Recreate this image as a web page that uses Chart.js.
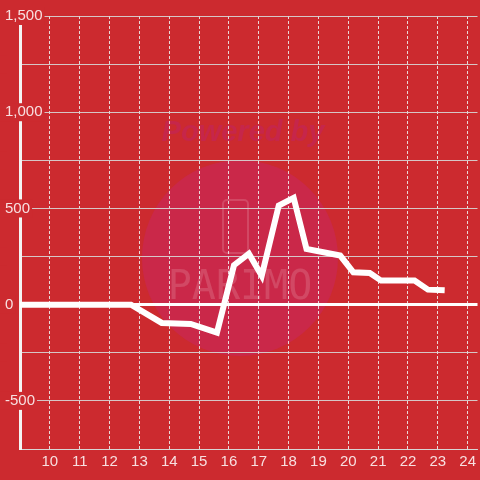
<!DOCTYPE html>
<html>
<head>
<meta charset="utf-8">
<script src="https://cdn.jsdelivr.net/npm/chart.js"></script>
<style>
  html, body { margin: 0; padding: 0; background: #cc2a2f; }
  #wrap { width: 480px; height: 480px; }
</style>
</head>
<body>
<div id="wrap"><canvas id="balanceChart" width="480" height="480"></canvas></div>
<script>
// hour of day and value at each vertex of the line
var hours = [9, 12.72, 13.75, 14.72, 15.6, 16.17, 16.67, 17.1, 17.67, 18.17, 18.6, 19.73, 20.17, 20.72, 21.1, 22.22, 22.67, 23.23];
var values = [0, 0, -95, -100, -145, 205, 265, 150, 515, 555, 290, 255, 168, 165, 125, 125, 78, 75];
var yLabelValues = [-500, 0, 500, 1000, 1500];
var xLabelHours = [10, 11, 12, 13, 14, 15, 16, 17, 18, 19, 20, 21, 22, 23, 24];

var points = hours.map(function(h, i) { return { x: h, y: values[i] }; });

// faint "Powered by" watermark behind the grid
var watermark = {
    id: 'watermark',
    beforeDraw: function(chart) {
        var c = chart.ctx;
        c.save();
        c.fillStyle = '#ca2849';
        c.beginPath();
        c.arc(240, 258, 98, 0, Math.PI * 2);
        c.fill();
        c.fillStyle = '#c6264a';
        c.font = 'italic bold 29px "Liberation Sans"';
        c.textAlign = 'center';
        c.textBaseline = 'middle';
        c.fillText('Powered by', 243, 133);
        c.strokeStyle = 'rgba(255,255,255,0.15)';
        c.lineWidth = 2;
        c.beginPath();
        c.roundRect(223, 200, 25, 53, 4);
        c.stroke();
        c.fillStyle = 'rgba(255,255,255,0.15)';
        c.font = '40px "DejaVu Sans Mono"';
        c.fillText('PARIMO', 240, 289);
        c.restore();
    }
};

var ctx = document.getElementById('balanceChart').getContext('2d');
var balanceChart = new Chart(ctx, {
    type: 'line',
    data: {
        datasets: [{
            data: points,
            borderColor: '#ffffff',
            borderWidth: 6,
            pointRadius: 0,
            tension: 0,
            fill: false
        }]
    },
    options: {
        responsive: false,
        animation: false,
        layout: { padding: { left: 20, top: 16, right: 0, bottom: 5 } },
        plugins: { legend: { display: false }, tooltip: { enabled: false } },
        scales: {
            x: {
                type: 'linear',
                min: 9,
                max: 24.33,
                grid: {
                    color: 'rgba(235,235,235,0.9)',
                    lineWidth: 1,
                    drawTicks: false
                },
                border: { color: 'rgba(215,215,215,0.9)', width: 1, dash: [3, 2] },
                ticks: {
                    stepSize: 1,
                    includeBounds: false,
                    padding: 4,
                    color: 'rgba(255,255,255,0.85)',
                    font: { family: 'Liberation Sans', size: 15 },
                    maxRotation: 0,
                    autoSkip: false,
                    callback: function(v) { return xLabelHours.indexOf(v) >= 0 ? String(v) : ''; }
                }
            },
            y: {
                min: -750,
                max: 1500,
                afterFit: function(scale) { scale.width = 0; },
                grid: {
                    color: function(c) { return c.tick.value === 0 ? '#ffffff' : 'rgba(215,215,215,0.9)'; },
                    lineWidth: function(c) { return c.tick.value === 0 ? 3 : 1; },
                    drawTicks: false
                },
                border: { color: '#f4f4f4', width: 3 },
                ticks: {
                    stepSize: 250,
                    mirror: true,
                    padding: -15,
                    color: 'rgba(255,255,255,0.85)',
                    font: { family: 'Liberation Sans', size: 15 },
                    showLabelBackdrop: true,
                    backdropColor: '#cc2a2f',
                    backdropPadding: { left: 5, right: 2, top: 0, bottom: 0 },
                    callback: function(v) {
                        return yLabelValues.indexOf(v) >= 0 ? v.toLocaleString('en-US') : '';
                    }
                }
            }
        }
    },
    plugins: [watermark]
});
</script>
</body>
</html>
